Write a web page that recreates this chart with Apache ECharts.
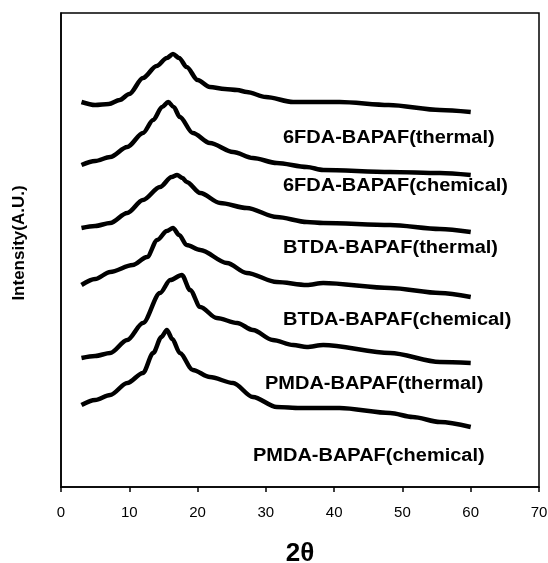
<!DOCTYPE html>
<html>
<head>
<meta charset="utf-8">
<script src="https://cdn.jsdelivr.net/npm/echarts@6/dist/echarts.min.js"></script>
<style>
  html, body { margin: 0; padding: 0; background: #fff; }
  #chart { width: 548px; height: 563px; }
</style>
</head>
<body>
<div id="chart"></div>
<script>
// 2theta (deg) vs offset intensity (a.u.)
var fda6Thermal = [[3,385],[5,382],[7,383],[8.6,387],[10,393],[12,409],[14,421],[15.5,429],[16.4,433],[17.3,429],[18.4,420],[20,407],[21.8,400],[24,398],[25.8,397],[27.2,395],[30,390],[34,385],[40.8,385],[48,382],[55.5,377],[60,375]]
var fda6Chemical = [[3,322],[5,326],[7.2,330],[9.7,340],[12,354],[13.5,367],[14.8,380],[15.7,385],[16.5,380],[17.4,370],[19.3,354],[21.8,344],[25.2,335],[28.1,329],[31.6,324],[36,320],[38.4,317],[48.2,315],[55.5,314],[60,312]]
var btdaThermal = [[3,259],[5,261],[7.2,264],[9.7,274],[12,287],[14.5,300],[16.2,310],[17,312],[17.8,309],[18.4,305],[20.4,294],[23.3,284],[27.2,279],[31.6,270],[36,265],[38.4,264],[48.2,262],[55.5,258],[60,255]]
var btdaChemical = [[3,202],[5,208],[7.2,215],[10.5,222],[12.6,230],[14.1,247],[15.5,256],[16.4,259],[17.3,252],[18.4,242],[20.4,237],[24.3,224],[27.2,214],[31.6,205],[36,202],[38.4,204],[48.2,199],[55.5,194],[60,190]]
var pmdaThermal = [[3,129],[5,131],[7.2,134],[9.7,147],[12,164],[14.5,194],[16,207],[17.7,212],[18.9,197],[20.4,180],[22.8,169],[25.8,164],[28.1,157],[31,147],[34,142],[36,140],[38.4,142],[48.2,134],[55.5,125],[60,124]]
var pmdaChemical = [[3,82],[5,87],[7.2,92],[9.7,104],[12,114],[13.5,134],[14.7,150],[15.5,157],[16.3,148],[17.4,134],[19.3,117],[21.8,110],[25.2,104],[28.1,90],[31.6,80],[35,79],[40.8,79],[48.2,74],[51.5,70],[55.5,65],[60,60]]

var seriesNames = ['6FDA-BAPAF(thermal)', '6FDA-BAPAF(chemical)', 'BTDA-BAPAF(thermal)', 'BTDA-BAPAF(chemical)', 'PMDA-BAPAF(thermal)', 'PMDA-BAPAF(chemical)']
var seriesData = [fda6Thermal, fda6Chemical, btdaThermal, btdaChemical, pmdaThermal, pmdaChemical]
var xTicks = [0, 10, 20, 30, 40, 50, 60, 70]

// where each curve caption sits (left edge, centre y) in pixels
var captionPos = [[283, 138], [283, 186], [283, 248], [283, 320], [265, 384], [253, 456]]

var chart = echarts.init(document.getElementById('chart'))

var series = []
seriesData.forEach(function (d, i) {
  series.push({
    name: seriesNames[i],
    type: 'line',
    data: d,
    smooth: 0.3,
    smoothMonotone: 'x',
    symbol: 'none',
    lineStyle: { color: '#000', width: 4.5 }
  })
})

var graphic = captionPos.map(function (p, i) {
  return {
    type: 'text',
    x: p[0],
    y: p[1],
    scaleX: 1.11,
    style: {
      text: seriesNames[i],
      fill: '#000',
      font: 'bold 18px "Liberation Sans", Arial, sans-serif',
      textAlign: 'left',
      textVerticalAlign: 'middle'
    }
  }
})
graphic.push({
  type: 'text',
  x: 19,
  y: 243,
  rotation: Math.PI / 2,
  style: {
    text: 'Intensity(A.U.)',
    fill: '#000',
    font: 'bold 17px "Liberation Sans", Arial, sans-serif',
    textAlign: 'center',
    textVerticalAlign: 'middle'
  }
})

chart.setOption({
  backgroundColor: '#fff',
  animation: false,
  grid: {
    left: 61,
    right: 9,
    top: 13,
    bottom: 76,
    show: true,
    borderColor: '#000',
    borderWidth: 1.5,
    outerBoundsMode: 'none',
    containLabel: false
  },
  xAxis: {
    type: 'value',
    min: 0,
    max: 70,
    interval: 10,
    name: '2θ',
    nameLocation: 'middle',
    nameGap: 54,
    nameTextStyle: { fontSize: 26, fontWeight: 'bold', color: '#000', fontFamily: 'Liberation Sans' },
    axisLine: { lineStyle: { color: '#000', width: 1.5 } },
    axisTick: { show: true, inside: false, length: 5, lineStyle: { color: '#000', width: 1.5 } },
    axisLabel: {
      margin: 18,
      fontSize: 15,
      color: '#000',
      fontFamily: 'Liberation Sans',
      formatter: function (v) { return xTicks.indexOf(v) >= 0 ? String(v) : '' }
    },
    splitLine: { show: false }
  },
  yAxis: {
    type: 'value',
    min: 0,
    max: 474,
    axisLine: { show: true, lineStyle: { color: '#000', width: 1.5 } },
    axisTick: { show: false },
    axisLabel: { show: false },
    splitLine: { show: false }
  },
  graphic: graphic,
  series: series
})
</script>
</body>
</html>
